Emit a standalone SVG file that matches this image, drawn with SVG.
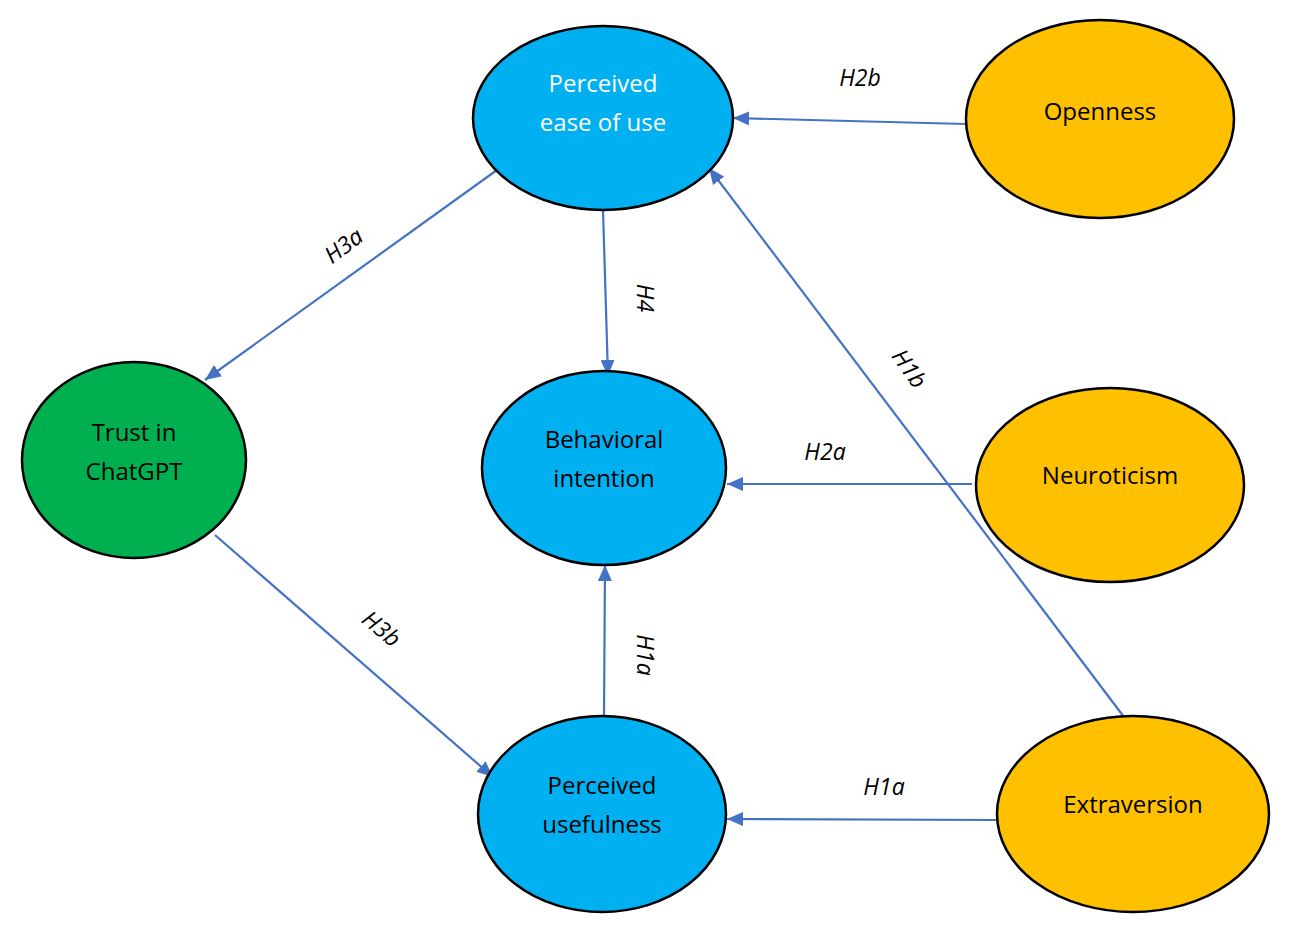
<svg xmlns="http://www.w3.org/2000/svg" width="1310" height="929" viewBox="0 0 1310 929">
<defs>
<marker id="ah" markerUnits="userSpaceOnUse" markerWidth="18" markerHeight="14" refX="16" refY="7" orient="auto">
<path d="M0,0 L16,7 L0,14 Z" fill="#4472C4"/>
</marker>
<style>
.n{stroke:#000;stroke-width:2.5}
.blue{fill:#00B0F0}
.org{fill:#FFC000}
.grn{fill:#00B050}
.t{font-family:"Open Sans","Noto Sans","Liberation Sans",sans-serif;font-size:24px;font-weight:500;text-anchor:middle;dominant-baseline:central;fill:#000}
.w{fill:#fff}
.c{stroke:#4472C4;stroke-width:2.2;fill:none;marker-end:url(#ah)}
.l{font-family:"Open Sans","Noto Sans","Liberation Sans",sans-serif;font-size:23px;font-weight:500;font-style:italic;text-anchor:middle;dominant-baseline:central;fill:#000}
</style>
</defs>
<rect width="1310" height="929" fill="#fff"/>
<g id="connectors">
<line class="c" x1="966" y1="124" x2="733" y2="118"/>
<line class="c" x1="1124" y1="717" x2="709" y2="168"/>
<line class="c" x1="497" y1="170" x2="205" y2="380"/>
<line class="c" x1="603" y1="210" x2="608" y2="376"/>
<line class="c" x1="972" y1="484" x2="727" y2="484"/>
<line class="c" x1="215" y1="535" x2="493" y2="777"/>
<line class="c" x1="604" y1="716" x2="605" y2="565"/>
<line class="c" x1="996" y1="820" x2="727" y2="819"/>
<text class="l" x="860" y="77">H2b</text>
<text class="l" transform="translate(343,245) rotate(-37)">H3a</text>
<text class="l" transform="translate(646,298) rotate(90)">H4</text>
<text class="l" transform="translate(910,368) rotate(55)">H1b</text>
<text class="l" x="825" y="451">H2a</text>
<text class="l" transform="translate(382,628) rotate(40)">H3b</text>
<text class="l" transform="translate(646,655) rotate(90)">H1a</text>
<text class="l" x="884" y="786">H1a</text>
</g>
<g id="peou">
<ellipse class="n blue" cx="603" cy="118" rx="130" ry="92"/>
<text class="t w" x="603" y="82">Perceived</text>
<text class="t w" x="603" y="121">ease of use</text>
</g>
<g id="openness">
<ellipse class="n org" cx="1100" cy="119" rx="134" ry="99"/>
<text class="t" x="1100" y="110">Openness</text>
</g>
<g id="trust">
<ellipse class="n grn" cx="134" cy="460" rx="112" ry="98"/>
<text class="t" x="134" y="431">Trust in</text>
<text class="t" x="134" y="470">ChatGPT</text>
</g>
<g id="bi">
<ellipse class="n blue" cx="604" cy="468" rx="122" ry="97"/>
<text class="t" x="604" y="438">Behavioral</text>
<text class="t" x="604" y="477">intention</text>
</g>
<g id="neuroticism">
<ellipse class="n org" cx="1110" cy="485" rx="134" ry="97"/>
<text class="t" x="1110" y="474">Neuroticism</text>
</g>
<g id="pu">
<ellipse class="n blue" cx="602" cy="814" rx="124" ry="98"/>
<text class="t" x="602" y="784">Perceived</text>
<text class="t" x="602" y="823">usefulness</text>
</g>
<g id="extraversion">
<ellipse class="n org" cx="1133" cy="814" rx="136" ry="98"/>
<text class="t" x="1133" y="803">Extraversion</text>
</g>
</svg>
